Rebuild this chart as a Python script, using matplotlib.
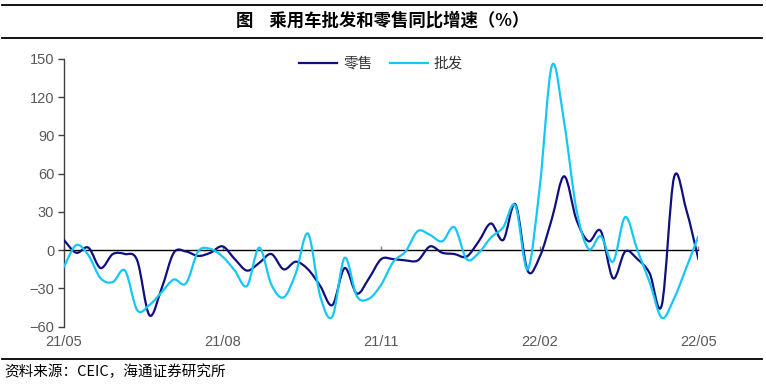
import matplotlib
matplotlib.use("Agg")
import matplotlib.pyplot as plt
from matplotlib.path import Path
from matplotlib.patches import PathPatch
from matplotlib.lines import Line2D
import numpy as np

plt.rcParams['font.family'] = ['Liberation Sans', 'Noto Sans CJK SC', 'DejaVu Sans']

# ---- data (weekly, 21/05 .. 22/05) ----
tick_labels = ['21/05', '21/08', '21/11', '22/02', '22/05']
tick_step = 13
retail = [8, -2, 2, -14, -3, -3, -8, -51, -30, -2, -1, -4.5, -2, 3, -7, -16, -10, -3,
          -15, -9, -15, -28, -43, -14, -34, -22, -7, -7, -8, -8, 3, -2, -3, -5, 7, 21,
          8, 36, -16, -5, 25, 58, 24, 7, 15, -22, -1, -7, -18, -43, 57, 32, -7]
wholesale = [-13, 4, -4, -22, -25, -16, -47, -43, -33, -23, -26, -1, 1, -5, -16, -28, 2,
             -27, -37, -18, 13, -36, -52, -6, -36, -38, -27, -9, -1, 15, 12, 7, 18, -7,
             -2, 10, 18, 35, -15, 50, 145, 100, 32, 1, 11, -9, 26, 0, -25, -53, -38, -14, 11]
series_names = ['零售', '批发']
colors = ['#0F0F80', '#14C8F5']

W, H = 766, 386
fig = plt.figure(figsize=(W / 100, H / 100), dpi=100)
ax = fig.add_axes([64 / W, 1 - 326.7 / H, (698.4 - 64) / W, (326.7 - 59) / H])


def smooth_path(y):
    """Bezier (Catmull-Rom style) path through the data points, like a smoothed line."""
    x = np.arange(len(y), dtype=float)
    y = np.asarray(y, dtype=float)
    n = len(y)
    verts = [(x[0], y[0])]
    codes = [Path.MOVETO]
    for i in range(n - 1):
        p0 = (x[max(i - 1, 0)], y[max(i - 1, 0)])
        p1 = (x[i], y[i])
        p2 = (x[i + 1], y[i + 1])
        p3 = (x[min(i + 2, n - 1)], y[min(i + 2, n - 1)])
        c1 = (p1[0] + (p2[0] - p0[0]) / 6, p1[1] + (p2[1] - p0[1]) / 6)
        c2 = (p2[0] - (p3[0] - p1[0]) / 6, p2[1] - (p3[1] - p1[1]) / 6)
        verts += [c1, c2, p2]
        codes += [Path.CURVE4] * 3
    return Path(verts, codes)


for vals, col in zip([retail, wholesale], colors):
    ax.add_patch(PathPatch(smooth_path(vals), facecolor='none', edgecolor=col,
                           lw=1.6, capstyle='round', joinstyle='round', zorder=3))

n = len(retail)
ax.set_xlim(0, n - 1)
ax.set_ylim(-60, 150)
ax.set_yticks(np.arange(-60, 151, 30))
ax.tick_params(axis='y', direction='out', length=4, width=1, color='#404040',
               labelsize=10.5, labelcolor='#595959', pad=3)
ax.spines['left'].set_color('#404040')
ax.spines['left'].set_linewidth(1)
for s in ['top', 'right']:
    ax.spines[s].set_visible(False)
ax.spines['bottom'].set_position(('data', 0))
ax.spines['bottom'].set_color('black')
ax.spines['bottom'].set_linewidth(1)
ax.spines['bottom'].set_zorder(2)
ax.set_xticks(np.arange(0, n, tick_step))
ax.set_xticklabels(tick_labels)
ax.tick_params(axis='x', direction='in', length=3, width=1, color='#808080',
               labelsize=10.5, labelcolor='#595959', pad=61)

# legend
handles = [Line2D([], [], color=c, lw=1.6) for c in colors]
leg = ax.legend(handles, series_names, loc='upper center', bbox_to_anchor=(0.5, 1.03),
                ncol=2, frameon=False, fontsize=10.5, handlelength=2.6, columnspacing=1.2,
                handletextpad=0.4, borderaxespad=0.0)
for t in leg.get_texts():
    t.set_color('#333333')

# title and rules
fig.add_artist(Line2D([2 / W, 762 / W], [1 - 4.5 / H] * 2, color='black', lw=1.3))
fig.add_artist(Line2D([2 / W, 762 / W], [1 - 38 / H] * 2, color='black', lw=1.3))
fig.add_artist(Line2D([2 / W, 762 / W], [1 - 359 / H] * 2, color='black', lw=1.3))
fig.text(0.5, 1 - 21 / H, '图    乘用车批发和零售同比增速（%）', ha='center', va='center',
         fontsize=12.5, fontweight='bold', family=['Noto Sans CJK SC', 'DejaVu Sans'])
fig.text(4 / W, 1 - 372 / H, '资料来源：CEIC，海通证券研究所', ha='left', va='center',
         fontsize=10.5, family=['Noto Sans CJK SC', 'DejaVu Sans'])

fig.savefig('out.png', dpi=100)
